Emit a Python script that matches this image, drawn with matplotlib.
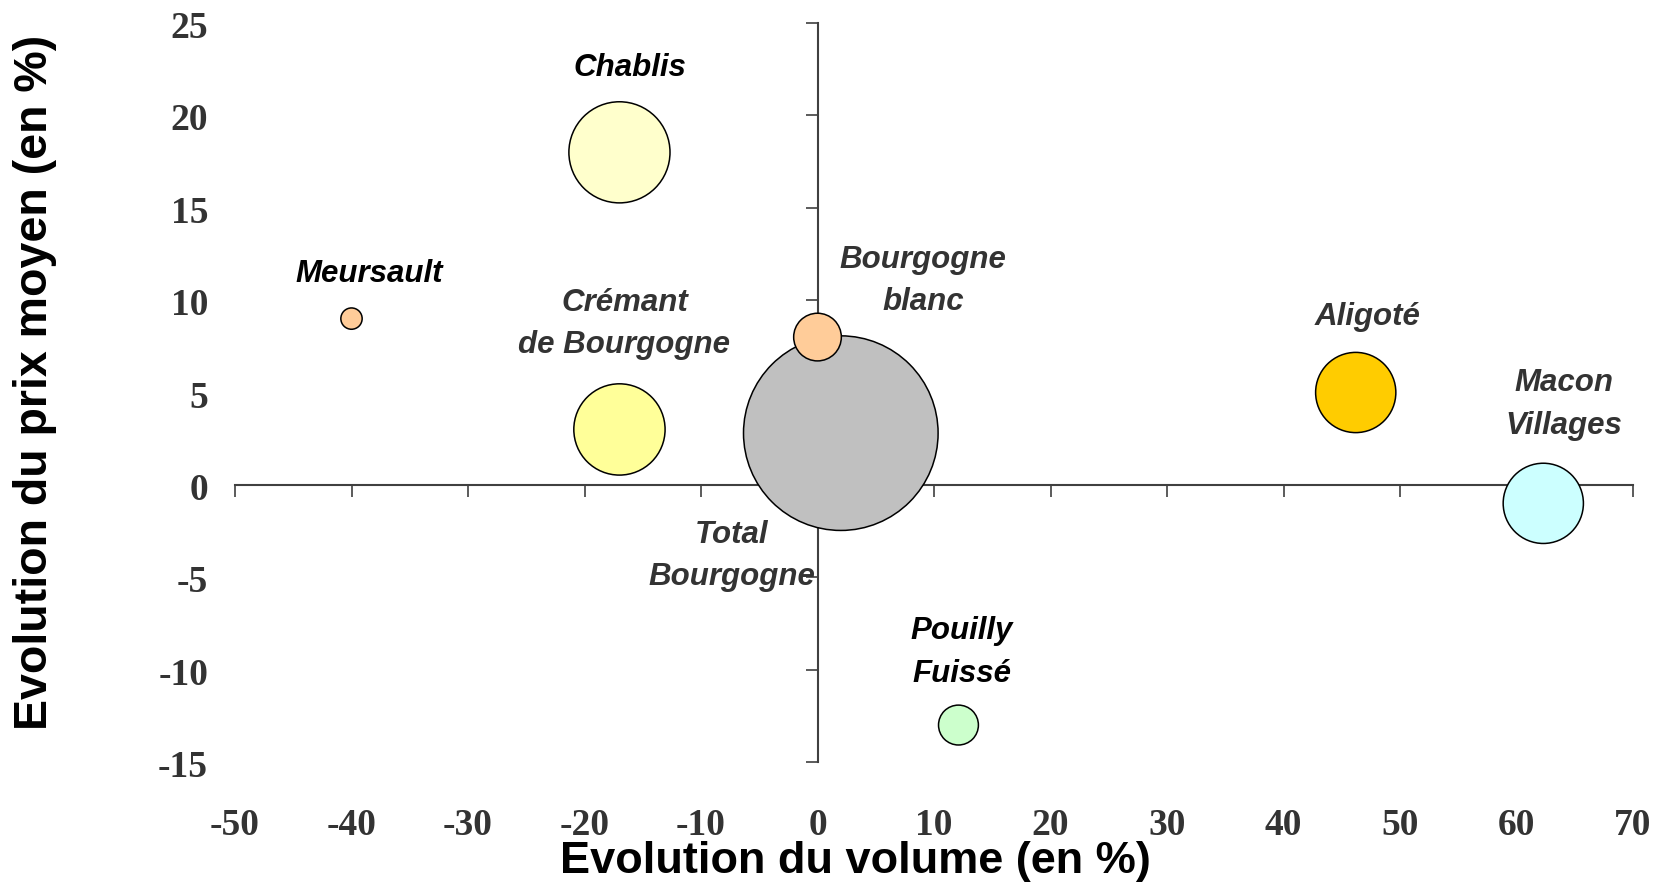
import numpy as np
from matplotlib import pyplot as plt
from matplotlib import transforms

# data
names = ['Chablis', 'Meursault', 'Crémant\nde Bourgogne', 'Total\nBourgogne',
         'Bourgogne\nblanc', 'Aligoté', 'Macon\nVillages', 'Pouilly\nFuissé']
vol_evol = [-17.0, -40.0, -17.0, 2.0, 0.0, 46.2, 62.3, 12.1]
price_evol = [18.0, 9.0, 3.0, 2.8, 8.0, 5.0, -1.0, -13.0]
weight = [27.0, 1.2, 22.0, 100.0, 6.0, 17.0, 17.0, 4.2]   # bubble size (relative)

colors = ['#FFFFCC', '#FFCC99', '#FFFF99', '#C0C0C0', '#FFCC99', '#FFCC00', '#CCFFFF', '#CCFFCC']
label_colors = ['black', 'black', '#333333', '#333333', '#333333', '#333333', '#333333', 'black']
# label offsets from the bubble centre (points)
label_off = [(7.6, 61), (12.7, 32), (3.6, 76), (-78.5, -88.4), (76, 40.3),
             (8.4, 54.4), (15, 71), (2.5, 52.3)]

xticks = np.arange(-50, 71, 10)
yticks = np.arange(-15, 26, 5)

dpi = 100
fig = plt.figure(figsize=(16.59, 8.85), dpi=dpi)
ax = fig.add_axes([235/1659, 1-762/885, 1398/1659, 739/885])
ax.set_xlim(-50, 70)
ax.set_ylim(-15, 25)

# axes crossing at zero
for s in ['top', 'right']:
    ax.spines[s].set_visible(False)
ax.spines['left'].set_position(('data', 0))
ax.spines['bottom'].set_position(('data', 0))
for s in ['left', 'bottom']:
    ax.spines[s].set_color('#404040')
    ax.spines[s].set_linewidth(1.5)
ax.set_xticks(xticks)
ax.set_yticks(yticks)
ax.tick_params(axis='both', direction='out', length=8.5, width=1.2, color='#404040',
               labelbottom=False, labelleft=False)

# tick labels at the edge of the plot
shift = transforms.ScaledTranslation(0, -4/72., fig.dpi_scale_trans)
tx = transforms.blended_transform_factory(ax.transData, ax.transAxes) + shift
ty = transforms.blended_transform_factory(ax.transAxes, ax.transData) + shift
for v in xticks:
    ax.text(v, -0.078, str(v), transform=tx, ha='center', va='center', fontsize=27,
            fontweight='bold', family='Liberation Serif', color='#333333')
for v in yticks:
    ax.text(-0.0193, v, str(v), transform=ty, ha='right', va='center', fontsize=27,
            fontweight='bold', family='Liberation Serif', color='#333333')

# bubbles, area proportional to weight
r_px = 97.3*np.sqrt(np.array(weight)/100.0)
sizes = (2*r_px*72.0/dpi)**2
ax.scatter(vol_evol, price_evol, s=sizes, c=colors, edgecolors='black', linewidths=1.1,
           zorder=3, clip_on=False)

for i in range(len(names)):
    ax.annotate(names[i], (vol_evol[i], price_evol[i]), xytext=label_off[i],
                textcoords='offset points', ha='center', va='center', fontsize=22.5,
                fontweight='bold', fontstyle='italic', family='Liberation Sans',
                color=label_colors[i], linespacing=1.55, zorder=4)

fig.text(0.5154, 0.027, 'Evolution du volume (en %)', ha='center', va='center',
         fontsize=32.5, fontweight='bold', family='Liberation Sans')
fig.text(0.0211, 0.568, 'Evolution du prix moyen (en %)', ha='center', va='center',
         rotation=90, fontsize=33.5, fontweight='bold', family='Liberation Sans')

fig.savefig('out.png', dpi=dpi)
plt.close()
